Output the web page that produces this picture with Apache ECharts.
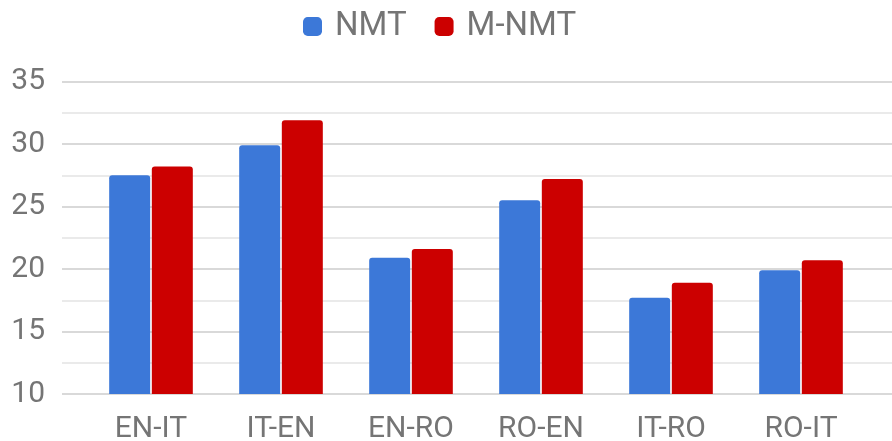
<!DOCTYPE html>
<html>
<head>
<meta charset="utf-8">
<script src="https://cdn.jsdelivr.net/npm/echarts@6/dist/echarts.min.js"></script>
<style>
  html, body { margin: 0; padding: 0; background: #ffffff; }
  #chart { width: 892px; height: 441px; }
</style>
</head>
<body>
<div id="chart"></div>
<script>
// Language pairs and BLEU scores
const categories = ['EN-IT', 'IT-EN', 'EN-RO', 'RO-EN', 'IT-RO', 'RO-IT'];
const nmtScores = [27.5, 29.9, 20.9, 25.5, 17.7, 19.9];
const mnmtScores = [28.2, 31.9, 21.6, 27.2, 18.9, 20.7];
const yTicks = { min: 10, max: 35, interval: 5 };

const textGray = '#757575';
const font = 'Roboto, "Noto Sans", sans-serif';

const chart = echarts.init(document.getElementById('chart'), null, { renderer: 'canvas' });

chart.setOption({
  animation: false,
  backgroundColor: '#ffffff',
  textStyle: { fontFamily: font },
  legend: {
    top: 5,
    left: 298,
    itemWidth: 19,
    itemHeight: 19,
    itemGap: 28,
    icon: 'roundRect',
    textStyle: { color: textGray, fontSize: 33, fontFamily: font, padding: [0, 0, 0, 8] },
    data: ['NMT', 'M-NMT']
  },
  grid: [
    // full-width grid carrying the value axis and its gridlines
    { left: 62, right: 0, top: 81.5, bottom: 47, outerBoundsMode: 'none', containLabel: false },
    // inner grid holding the bars
    { left: 86, right: 26, top: 81.5, bottom: 47, outerBoundsMode: 'none', containLabel: false }
  ],
  xAxis: [
    { gridIndex: 0, type: 'category', data: categories, show: false },
    {
      gridIndex: 1,
      type: 'category',
      data: categories,
      axisLine: { show: false },
      axisTick: { show: false },
      axisLabel: { color: textGray, fontSize: 30, fontFamily: font, margin: 20 }
    }
  ],
  yAxis: [
    {
      gridIndex: 0,
      type: 'value',
      min: yTicks.min,
      max: yTicks.max,
      interval: yTicks.interval,
      axisLine: { show: false },
      axisTick: { show: false },
      axisLabel: { color: textGray, fontSize: 30, fontFamily: font, margin: 17 },
      splitLine: { show: true, lineStyle: { color: '#cccccc', width: 1.5 } },
      minorTick: { show: false, splitNumber: 2 },
      minorSplitLine: { show: true, lineStyle: { color: '#e3e3e3', width: 1.5 } }
    },
    {
      gridIndex: 1,
      type: 'value',
      min: yTicks.min,
      max: yTicks.max,
      interval: yTicks.interval,
      show: false,
      splitLine: { show: false }
    }
  ],
  series: [
    {
      name: 'NMT',
      type: 'bar',
      xAxisIndex: 1,
      yAxisIndex: 1,
      data: nmtScores,
      barWidth: 41,
      barGap: '4%',
      itemStyle: { color: '#3c78d8', borderRadius: [3, 3, 0, 0] }
    },
    {
      name: 'M-NMT',
      type: 'bar',
      xAxisIndex: 1,
      yAxisIndex: 1,
      data: mnmtScores,
      barWidth: 41,
      barGap: '4%',
      itemStyle: { color: '#cc0000', borderRadius: [3, 3, 0, 0] }
    }
  ]
});
</script>
</body>
</html>
